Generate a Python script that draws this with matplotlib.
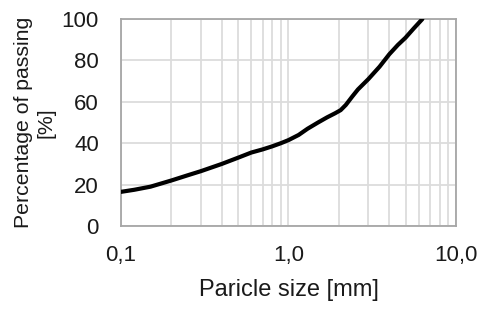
import matplotlib
matplotlib.use("Agg")
import matplotlib.pyplot as plt
from matplotlib.ticker import FixedLocator, FixedFormatter, LogLocator, NullFormatter

size_mm = [0.1, 0.12, 0.15, 0.2, 0.25, 0.3, 0.4, 0.5, 0.6, 0.7, 0.8, 0.9, 1.0, 1.15, 1.3, 1.5, 1.7, 1.9, 2.05, 2.2, 2.4, 2.6, 3.0, 3.5, 4.0, 4.5, 5.0, 5.6, 6.3]
passing = [16.5, 17.5, 19.0, 22.0, 24.5, 26.5, 30.0, 33.0, 35.5, 37.0, 38.5, 40.0, 41.5, 44.0, 47.0, 50.0, 52.5, 54.5, 56.0, 58.5, 62.5, 66.0, 71.0, 77.0, 83.0, 87.5, 91.0, 95.5, 100.0]
x_ticks = [0.1, 1.0, 10.0]
x_tick_labels = ["0,1", "1,0", "10,0"]
y_ticks = [0, 20, 40, 60, 80, 100]

plt.rcParams['font.family'] = ['Liberation Sans', 'DejaVu Sans']
text_color = '#1a1a1a'

fig = plt.figure(figsize=(4.84, 3.13), dpi=100)
ax = fig.add_axes([0.25, 0.278, 0.692, 0.661])

ax.plot(size_mm, passing, color='black', lw=3.0, solid_capstyle='round',
        solid_joinstyle='round', zorder=3)
ax.set_xscale('log')
ax.set_xlim(0.1, 10)
ax.set_ylim(0, 100)

ax.xaxis.set_major_locator(FixedLocator(x_ticks))
ax.xaxis.set_major_formatter(FixedFormatter(x_tick_labels))
ax.xaxis.set_minor_locator(LogLocator(base=10, subs=range(2, 10)))
ax.xaxis.set_minor_formatter(NullFormatter())
ax.set_yticks(y_ticks)

ax.grid(True, which='both', axis='x', color='#dcdcdc', lw=1.3)
ax.grid(True, which='major', axis='y', color='#dcdcdc', lw=1.3)
ax.set_axisbelow(True)
ax.tick_params(which='both', length=0, labelsize=16, labelcolor=text_color)
ax.tick_params(axis='x', pad=14)
ax.tick_params(axis='y', pad=16)
for s in ax.spines.values():
    s.set_color('#a6a6a6')
    s.set_linewidth(1.3)

ax.set_xlabel('Paricle size [mm]', fontsize=17, labelpad=9, color=text_color)
ax.set_ylabel('Percentage of passing\n[%]', fontsize=15.3, labelpad=4,
              linespacing=1.25, color=text_color)

fig.savefig('out.png', dpi=100)
